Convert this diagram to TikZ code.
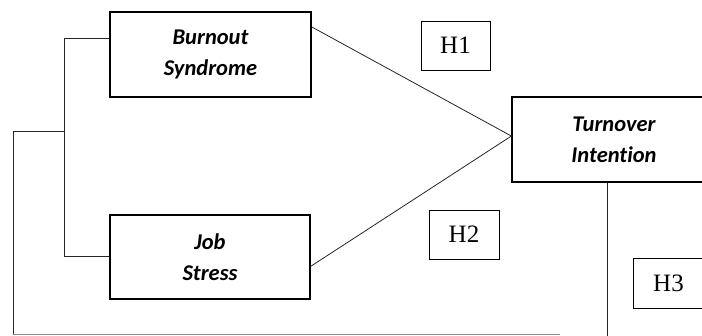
\documentclass[tikz,border=0pt]{standalone}
\usepackage{fontspec}
\setmainfont{Liberation Serif}
\newfontfamily\boxfont[Ligatures=NoCommon]{Carlito}
\usetikzlibrary{calc}
\begin{document}
\begin{tikzpicture}[x=1pt,y=-1pt,
  varbox/.style={draw, line width=1.3pt, rectangle, inner sep=0pt, align=center,
     font=\boxfont\bfseries\itshape\fontsize{22.5}{31}\selectfont},
  hbox/.style={draw, line width=0.9pt, rectangle, inner sep=0pt,
     font=\fontsize{25}{28}\selectfont},
  link/.style={line width=0.8pt, draw=black!85},
  faint/.style={line width=0.9pt, draw=black!45}]
\useasboundingbox (0,0) rectangle (702,335);
\node[varbox, minimum width=201pt, minimum height=85pt] (burnout) at (210.5,54.5) {Burnout\\Syndrome};
\node[varbox, minimum width=200pt, minimum height=84pt] (job) at (210,257) {Job\\Stress};
\node[varbox, minimum width=204pt, minimum height=85pt] (turn) at (614,139.5) {Turnover\\Intention};
\node[hbox, minimum width=69pt, minimum height=49pt] (h1) at (455.5,45.5) {H1};
\node[hbox, minimum width=70pt, minimum height=49pt] (h2) at (464,234.5) {H2};
\node[hbox, minimum width=71pt, minimum height=50pt] (h3) at (668.5,283) {H3};
% connectors to turnover
\coordinate (tin) at ($(turn.north west)!0.46!(turn.south west)$);
\draw[link] ($(burnout.north east)!0.18!(burnout.south east)$) -- (tin);
\draw[link] ($(job.north east)!0.61!(job.south east)$) -- (tin);
% left bracket
\coordinate (bl) at ($(burnout.north west)!0.31!(burnout.south west)$);
\coordinate (jl) at ($(job.north west)!0.49!(job.south west)$);
\coordinate (bx) at (64,0);
\coordinate (mid) at (64,131);
\coordinate (outer) at (13,131);
\coordinate (corner) at (13,334);
\coordinate (bend) at (560,334);
\draw[link] (bl) -- (bx |- bl) -- (bx |- jl) -- (jl);
\draw[link] (mid) -- (outer) -- (corner);
\draw[faint] (corner) -- (bend);
% turnover down line
\coordinate (tdown) at ($(turn.south west)!0.466!(turn.south east)$);
\coordinate (tend) at (tdown |- 0,336);
\draw[link] (tdown) -- (tend);
\end{tikzpicture}
\end{document}
